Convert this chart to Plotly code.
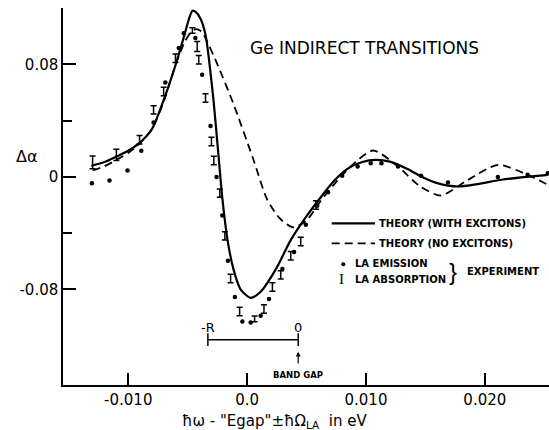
import plotly.graph_objects as go

# ---- data ----
x_solid = [-0.0131, -0.0120, -0.0110, -0.0100, -0.0090, -0.0080, -0.0070, -0.0060, -0.0053, -0.0049,
           -0.0046, -0.0043, -0.0039, -0.0035, -0.0032, -0.00283, -0.00245, -0.00207, -0.00165, -0.00114,
           -0.00055, 0.0003, 0.00114, 0.0024, 0.00367, 0.0050, 0.0062, 0.0073, 0.0085, 0.0097,
           0.0108, 0.0120, 0.0135, 0.01464, 0.0160, 0.01774, 0.0195, 0.0214, 0.0235, 0.0253]
y_solid = [0.0078, 0.0105, 0.0144, 0.0185, 0.0245, 0.034, 0.055, 0.080, 0.100, 0.112,
           0.118, 0.117, 0.112, 0.101, 0.083, 0.0547, 0.0192, -0.0163, -0.0448, -0.066,
           -0.080, -0.086, -0.0817, -0.066, -0.045, -0.028, -0.0145, -0.003, 0.006, 0.0105,
           0.012, 0.0108, 0.0055, 0.0002, -0.0045, -0.0069, -0.005, -0.0021, 0.0, 0.0014]

x_dash = [-0.0130, -0.0120, -0.0110, -0.0100, -0.0090, -0.0080, -0.0070, -0.0060, -0.0053, -0.0048,
          -0.0043, -0.0038, -0.0033, -0.0025, -0.0012, 0.0005, 0.0017, 0.0028, 0.0039, 0.0050,
          0.0062, 0.0073, 0.0087, 0.0106, 0.0127, 0.0145, 0.0163, 0.0186, 0.0211, 0.0236, 0.0253]
y_dash = [0.0045, 0.0075, 0.012, 0.017, 0.024, 0.034, 0.054, 0.080, 0.095, 0.102,
          0.105, 0.103, 0.095, 0.080, 0.053, 0.013, -0.0163, -0.030, -0.036, -0.031,
          -0.017, -0.0055, 0.0073, 0.0187, 0.0073, -0.0065, -0.0133, -0.0021, 0.0085, 0.0014, -0.0057]

x_emission = [-0.01306, -0.01158, -0.01006, -0.0089, -0.00787, -0.00688, -0.00575, -0.00533, -0.00435, -0.00378,
              -0.00308, -0.00257, -0.00209, -0.00162, -0.00103, -0.0004, 0.0003, 0.00114, 0.00184, 0.00297,
              0.00395, 0.00494, 0.0059, 0.0068, 0.0080, 0.0093, 0.0104, 0.0113, 0.0127, 0.01464,
              0.0169, 0.0211, 0.0236, 0.0253]
y_emission = [-0.0045, -0.0026, 0.0045, 0.0185, 0.0386, 0.067, 0.0915, 0.102, 0.0986, 0.0725,
              0.0362, -0.0002, -0.0275, -0.0597, -0.0855, -0.1028, -0.1035, -0.0988, -0.0869, -0.0656,
              -0.0535, -0.0341, -0.0205, -0.011, 0.0007, 0.0073, 0.0097, 0.0097, 0.0073, 0.0007,
              -0.004, -0.0002, 0.0014, 0.0026]

x_absorption = [-0.0130, -0.0110, -0.00905, -0.00787, -0.00702, -0.00603, -0.0046, -0.0042, -0.00407, -0.0035,
                -0.0030, -0.0028, -0.0023, -0.00187, -0.00139, -0.00063, 0.00063, 0.00142, 0.00213, 0.00283,
                0.00367, 0.00451, 0.0058]
y_absorption = [0.0103, 0.0156, 0.0263, 0.0476, 0.0606, 0.0843, 0.104, 0.0926, 0.0832, 0.056,
                0.0251, 0.0116, -0.0116, -0.042, -0.0723, -0.0957, -0.101, -0.094, -0.0784, -0.0697,
                -0.0561, -0.046, -0.020]
err_absorption = [0.0045, 0.004, 0.003, 0.003, 0.003, 0.003, 0.002, 0.0035, 0.003, 0.003,
                  0.003, 0.003, 0.003, 0.003, 0.003, 0.003, 0.002, 0.003, 0.003, 0.003,
                  0.003, 0.003, 0.003]

x_tickvals = [-0.010, 0.0, 0.010, 0.020]
x_ticktext = ["-0.010", "0.0", "0.010", "0.020"]
y_tickvals = [-0.08, 0.0, 0.08]
y_ticktext = ["-0.08", "0", "0.08"]
y_minorvals = [-0.04, 0.04]

bracket_left, bracket_right, bracket_y = -0.0033, 0.0043, -0.1158

FONT = "DejaVu Sans"

fig = go.Figure()
fig.add_trace(go.Scatter(x=x_dash, y=y_dash, mode="lines", line=dict(color="black", width=1.8, dash="8px,5px", shape="spline", smoothing=0.7), showlegend=False))
fig.add_trace(go.Scatter(x=x_solid, y=y_solid, mode="lines", line=dict(color="black", width=2.2, shape="spline", smoothing=0.7), showlegend=False))
fig.add_trace(go.Scatter(x=x_emission, y=y_emission, mode="markers", marker=dict(color="black", size=4.5), showlegend=False))
fig.add_trace(go.Scatter(x=x_absorption, y=y_absorption, mode="markers", marker=dict(color="rgba(0,0,0,0)", size=1),
                         error_y=dict(type="data", array=err_absorption, visible=True, color="black", thickness=1.5, width=3),
                         showlegend=False))

W, H = 549, 430
L, R, T, B = 63, 0, 8, 45
def px(x):
    return (x - L) / (W - L - R)
def py(y):
    return (H - B - y) / (H - T - B)

# bracket (data coords)
fig.add_shape(type="line", xref="x", yref="y", x0=bracket_left, x1=bracket_right, y0=bracket_y, y1=bracket_y, line=dict(color="black", width=1.5))
for bx in (bracket_left, bracket_right):
    fig.add_shape(type="line", xref="x", yref="y", x0=bx, x1=bx, y0=bracket_y - 0.0045, y1=bracket_y + 0.0045, line=dict(color="black", width=1.5))

ann = []
def txt(x, y, text, size, family=FONT, xanchor="center", xref="paper", yref="paper"):
    ann.append(dict(x=x, y=y, xref=xref, yref=yref, text=text, showarrow=False, xanchor=xanchor, yanchor="middle",
                    font=dict(size=size, family=family, color="black")))

txt(bracket_left, bracket_y + 0.0085, "-R", 13, xref="x", yref="y")
txt(bracket_right, bracket_y + 0.0085, "0", 13, xref="x", yref="y")
ann.append(dict(x=bracket_right, y=bracket_y - 0.0085, ax=bracket_right, ay=bracket_y - 0.018, xref="x", yref="y", axref="x", ayref="y",
                text="", showarrow=True, arrowhead=2, arrowsize=0.8, arrowwidth=1.2, arrowcolor="black"))
txt(px(298), py(375), "<b>BAND GAP</b>", 8.5)

# title
txt(px(364.5), py(48), "Ge INDIRECT TRANSITIONS", 17)

# axis titles
txt(px(27), py(156), "Δα", 16)
txt(px(274), py(421), "ħω - \"Egap\"±ħΩ<sub>LA</sub>  in eV", 15)

# legend
fig.add_shape(type="line", xref="paper", yref="paper", x0=px(331.7), x1=px(375), y0=py(223.3), y1=py(223.3), line=dict(color="black", width=2.2))
fig.add_shape(type="line", xref="paper", yref="paper", x0=px(331.7), x1=px(375), y0=py(243.3), y1=py(243.3), line=dict(color="black", width=1.8, dash="8px,5px"))
fig.add_shape(type="circle", xref="paper", yref="paper", x0=px(341.3), x1=px(345.3), y0=py(262.3), y1=py(266.3), fillcolor="black", line=dict(color="black", width=0))
LS = 10
txt(px(377.3), py(223), "<b>THEORY (WITH EXCITONS)</b>", LS, xanchor="left")
txt(px(377.3), py(243), "<b>THEORY (NO EXCITONS)</b>", LS, xanchor="left")
txt(px(353.3), py(263), "<b>LA EMISSION</b>", LS, xanchor="left")
txt(px(341.7), py(279), "I", 15, family="Liberation Serif")
txt(px(353.3), py(279), "<b>LA ABSORPTION</b>", LS, xanchor="left")
txt(px(453), py(271), "}", 24, family="Liberation Sans")
txt(px(465), py(271), "<b>EXPERIMENT</b>", LS, xanchor="left")

fig.update_layout(
    width=W, height=H,
    margin=dict(l=L, r=R, t=T, b=B),
    paper_bgcolor="white", plot_bgcolor="white",
    annotations=ann,
    showlegend=False,
    xaxis=dict(range=[-0.01549, 0.0254], showgrid=False, zeroline=False, showline=True, linecolor="black", linewidth=1.5,
               ticks="inside", ticklen=12, tickwidth=1.5, tickcolor="black", tickvals=x_tickvals, ticktext=x_ticktext,
               tickfont=dict(size=15, family=FONT, color="black")),
    yaxis=dict(range=[-0.148, 0.120], showgrid=False, zeroline=False, showline=True, linecolor="black", linewidth=1.5,
               ticks="inside", ticklen=13, tickwidth=1.5, tickcolor="black", tickvals=y_tickvals, ticktext=y_ticktext,
               tickfont=dict(size=15, family=FONT, color="black"),
               minor=dict(tickvals=y_minorvals, ticks="inside", ticklen=9, tickwidth=1.5, tickcolor="black")),
)

fig.write_html("out.html")
